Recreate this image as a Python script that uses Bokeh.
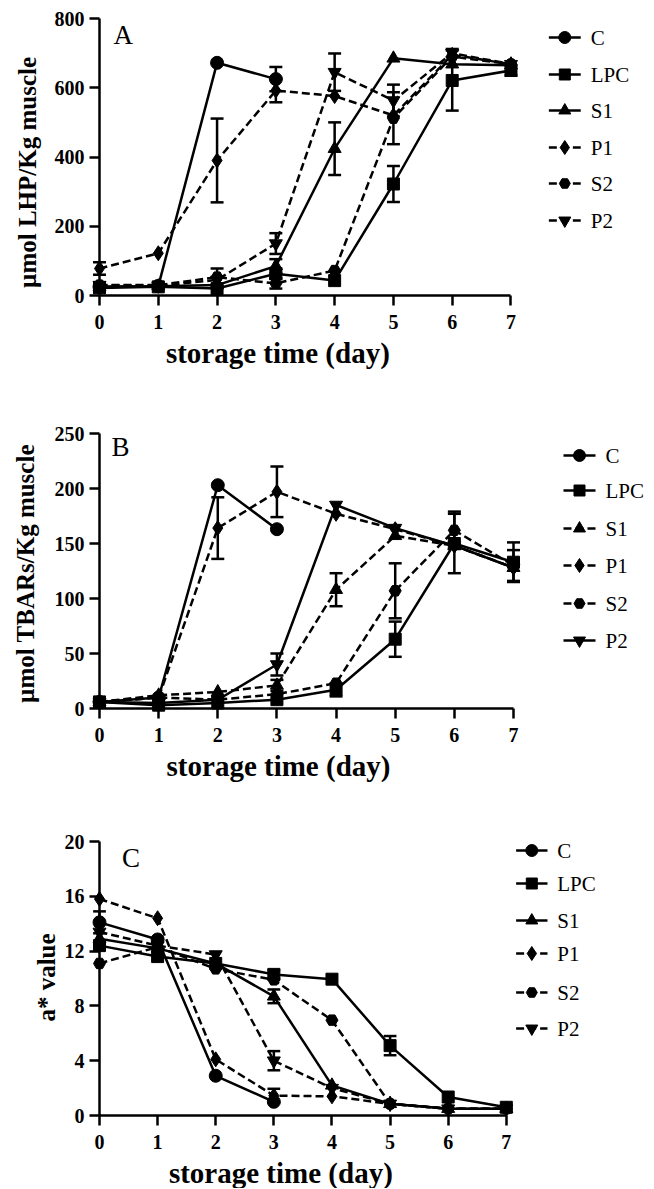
import math
from bokeh.plotting import figure
from bokeh.models import Range1d, FixedTicker, Label
from bokeh.core.properties import value
from bokeh.layouts import column
from bokeh.embed import file_html
from bokeh.resources import INLINE

days = [0, 1, 2, 3, 4, 5, 6, 7]
names = ["C", "LPC", "S1", "P1", "S2", "P2"]
markers = {"C": "circle", "LPC": "square", "S1": "triangle",
           "P1": "diamond", "S2": "hex", "P2": "inverted_triangle"}

# Panel A: LHP (umol/kg muscle)
lhp_C = [25, 27, 672, 625]
lhp_LPC = [22, 25, 20, 63, 43, 322, 621, 650]
lhp_S1 = [25, 27, 30, 85, 424, 685, 668, 665]
lhp_P1 = [78, 122, 390, 592, 576, 520, 695, 668]
lhp_S2 = [30, 30, 53, 35, 72, 512, 690, 668]
lhp_P2 = [30, 28, 45, 150, 645, 563, 700, 668]
lhp_err_C = [0, 0, 0, 35]
lhp_err_LPC = [8, 0, 0, 15, 0, 52, 87, 15]
lhp_err_S1 = [0, 0, 0, 20, 76, 0, 0, 0]
lhp_err_P1 = [18, 0, 121, 34, 0, 0, 0, 0]
lhp_err_S2 = [8, 0, 25, 15, 0, 75, 0, 0]
lhp_err_P2 = [0, 0, 0, 30, 54, 46, 12, 0]

# Panel B: TBARs (umol/kg muscle)
tba_C = [6, 10, 203, 163]
tba_LPC = [6, 3, 5, 8, 17, 63, 150, 133]
tba_S1 = [6, 12, 15, 21, 108, 157, 148, 128]
tba_P1 = [6, 10, 164, 197, 177, 163, 148, 128]
tba_S2 = [6, 10, 8, 13, 23, 107, 162, 130]
tba_P2 = [6, 5, 8, 40, 185, 164, 148, 128]
tba_err_C = [0, 0, 0, 0]
tba_err_LPC = [0, 0, 0, 0, 6, 16, 27, 18]
tba_err_S1 = [0, 0, 0, 5, 15, 0, 0, 0]
tba_err_P1 = [0, 0, 28, 23, 0, 0, 0, 0]
tba_err_S2 = [0, 0, 0, 0, 0, 25, 17, 14]
tba_err_P2 = [0, 0, 0, 10, 0, 0, 0, 0]

# Panel C: a* value
a_C = [14.1, 12.85, 2.9, 1.0]
a_LPC = [12.4, 11.6, 11.1, 10.3, 9.95, 5.1, 1.35, 0.6]
a_S1 = [12.9, 12.2, 11.1, 8.7, 2.2, 0.85, 0.5, 0.5]
a_P1 = [15.8, 14.4, 4.1, 1.45, 1.4, 0.85, 0.5, 0.5]
a_S2 = [11.1, 12.3, 10.7, 9.9, 6.96, 0.85, 0.5, 0.5]
a_P2 = [13.4, 12.4, 11.75, 4.0, 2.0, 0.85, 0.5, 0.5]
a_err_C = [0.8, 0, 0, 0]
a_err_LPC = [0, 0, 0, 0.3, 0, 0.7, 0, 0]
a_err_S1 = [0, 0, 0, 0.5, 0, 0, 0, 0]
a_err_P1 = [0, 0, 0, 0.5, 0, 0, 0, 0]
a_err_S2 = [0, 0, 0, 0, 0, 0, 0, 0]
a_err_P2 = [0, 0, 0, 0.7, 0, 0, 0, 0]

xticks = [0, 1, 2, 3, 4, 5, 6, 7]
yticks_A = [0, 200, 400, 600, 800]
yticks_B = [0, 50, 100, 150, 200, 250]
yticks_C = [0, 4, 8, 12, 16, 20]
xlabel = "storage time (day)"

SERIF = "Liberation Serif"
MSIZE = {"circle": 13, "square": 12, "triangle": 13, "diamond": 15,
         "hex": 12, "inverted_triangle": 13}
W = 650


def build(vals, errs, dashed, ymax, yticks, ylabel, ylab_px, letter,
          letter_px, page_top, height, b_top, frame_h, b_left, axis_w,
          xlab_cx, leg_x_px, leg_rows_px):
    ppd = axis_w / 7.0
    frame_total = W - 4 - b_left
    x_end = frame_total / ppd
    p = figure(width=W, height=height, output_backend="svg",
               toolbar_location=None, x_range=Range1d(0, x_end),
               y_range=Range1d(0, ymax), min_border_top=b_top,
               min_border_bottom=height - b_top - frame_h,
               min_border_left=b_left, min_border_right=4)
    p.outline_line_color = None
    p.grid.visible = False
    p.background_fill_color = "white"
    p.border_fill_color = "white"
    for ax in (p.xaxis[0], p.yaxis[0]):
        ax.axis_line_width = 2.5
        ax.axis_line_color = "black"
        ax.major_tick_line_width = 2.5
        ax.major_tick_line_color = "black"
        ax.major_tick_in = 0
        ax.major_tick_out = 10
        ax.minor_tick_line_color = None
        ax.major_label_text_font = SERIF
        ax.major_label_text_font_style = "bold"
        ax.major_label_text_font_size = "20px"
        ax.major_label_text_color = "black"
    p.xaxis.bounds = (0, 7)
    p.xaxis.ticker = FixedTicker(ticks=xticks)
    p.yaxis.ticker = FixedTicker(ticks=yticks)
    p.xaxis.major_label_standoff = 9
    p.yaxis.major_label_standoff = 5

    fl = b_left
    fb = page_top + b_top + frame_h  # frame bottom, page px
    ppu = frame_h / float(ymax)

    def dx(px):
        return (px - fl) / ppd

    def dy(py):
        return (fb - py) / ppu

    cap = 6.5 / ppd
    for i, n in enumerate(names):
        ys = vals[n]
        xs = days[:len(ys)]
        dash = "8 4" if dashed[n] else "solid"
        p.line(xs, ys, line_color="black", line_width=2.5,
               line_dash=dash, level="overlay")
        e = errs[n]
        ex = [x for x, v in zip(xs, e) if v > 0]
        lo = [y - v for y, v in zip(ys, e) if v > 0]
        hi = [y + v for y, v in zip(ys, e) if v > 0]
        if ex:
            p.segment(ex, lo, ex, hi, line_color="black", line_width=2.5,
                      level="overlay")
            p.segment([x - cap for x in ex], lo, [x + cap for x in ex], lo,
                      line_color="black", line_width=2.5, level="overlay")
            p.segment([x - cap for x in ex], hi, [x + cap for x in ex], hi,
                      line_color="black", line_width=2.5, level="overlay")
        p.scatter(xs, ys, marker=markers[n], size=MSIZE[markers[n]],
                  fill_color="black", line_color="black", level="overlay")
        # legend entry
        ry = dy(leg_rows_px[i])
        p.line([dx(leg_x_px), dx(leg_x_px + 32)], [ry, ry], line_color="black",
               line_width=2.5, line_dash=dash, level="overlay")
        p.scatter([dx(leg_x_px + 16)], [ry], marker=markers[n],
                  size=MSIZE[markers[n]] - 1, fill_color="black",
                  line_color="black", level="overlay")
        p.text([dx(leg_x_px + 42)], [ry], text=[n],
               text_font=value(SERIF), text_font_size=value("21px"),
               text_baseline="middle", text_align="left",
               text_color="black", level="overlay")

    p.add_layout(Label(x=dx(letter_px[0]), y=dy(letter_px[1]), text=letter,
                       text_font=SERIF, text_font_size="27px",
                       text_baseline="top", text_color="black",
                       level="overlay"))
    # axis titles
    p.text([dx(xlab_cx)], [dy(fb + 57)], text=[xlabel],
           text_font=value(SERIF), text_font_size=value("29px"),
           text_font_style="bold", text_align="center",
           text_baseline="middle", text_color="black", level="overlay")
    p.text([dx(ylab_px[0])], [dy(ylab_px[1])], text=[ylabel],
           angle=math.pi / 2, text_font=value(SERIF),
           text_font_size=value("25px"), text_font_style="bold",
           text_align="center", text_baseline="middle",
           text_color="black", level="overlay")
    return p


pA = build(
    {"C": lhp_C, "LPC": lhp_LPC, "S1": lhp_S1, "P1": lhp_P1, "S2": lhp_S2, "P2": lhp_P2},
    {"C": lhp_err_C, "LPC": lhp_err_LPC, "S1": lhp_err_S1, "P1": lhp_err_P1,
     "S2": lhp_err_S2, "P2": lhp_err_P2},
    {"C": False, "LPC": False, "S1": False, "P1": True, "S2": True, "P2": True},
    800, yticks_A, "µmol LHP/Kg muscle", (25, 172), "A", (111, 19),
    0, 395, 18, 277, 97, 413, 276,
    548, [37, 74, 110, 147, 183, 220])

pB = build(
    {"C": tba_C, "LPC": tba_LPC, "S1": tba_S1, "P1": tba_P1, "S2": tba_S2, "P2": tba_P2},
    {"C": tba_err_C, "LPC": tba_err_LPC, "S1": tba_err_S1, "P1": tba_err_P1,
     "S2": tba_err_S2, "P2": tba_err_P2},
    {"C": False, "LPC": False, "S1": True, "P1": True, "S2": True, "P2": False},
    250, yticks_B, "µmol TBARs/Kg muscle", (25, 573), "B", (111, 431),
    395, 415, 38, 275, 99, 414, 278,
    563, [455, 490, 528, 565, 603, 640])

pC = build(
    {"C": a_C, "LPC": a_LPC, "S1": a_S1, "P1": a_P1, "S2": a_S2, "P2": a_P2},
    {"C": a_err_C, "LPC": a_err_LPC, "S1": a_err_S1, "P1": a_err_P1,
     "S2": a_err_S2, "P2": a_err_P2},
    {"C": False, "LPC": False, "S1": False, "P1": True, "S2": True, "P2": True},
    20, yticks_C, "a* value", (34, 977), "C", (111, 842),
    810, 378, 31, 274, 88, 415, 273,
    513, [850, 883, 920, 953, 992, 1028])

layout = column(pA, pB, pC)
open("out.html", "w").write(file_html(layout, INLINE))
